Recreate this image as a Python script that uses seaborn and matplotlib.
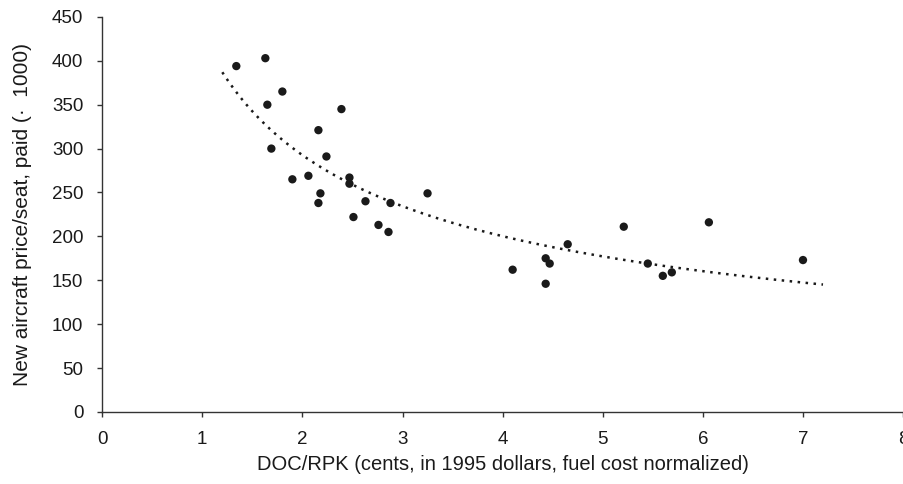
import numpy as np
import pandas as pd
import matplotlib
matplotlib.use("Agg")
import matplotlib.pyplot as plt
import seaborn as sns

# DOC/RPK (cents) and new aircraft price per seat (x1000)
doc_rpk = [1.34, 1.63, 1.80, 1.65, 2.39, 2.16, 1.69, 2.24, 1.90, 2.06,
           2.47, 2.47, 2.18, 2.16, 2.63, 2.88, 3.25, 2.51, 2.76, 2.86,
           5.21, 6.06, 7.00, 4.65, 4.43, 4.47, 4.10, 4.43, 5.45, 5.60, 5.69]
price_seat = [394, 403, 365, 350, 345, 321, 300, 291, 265, 269,
              267, 260, 249, 238, 240, 238, 249, 222, 213, 205,
              211, 216, 173, 191, 175, 169, 162, 146, 169, 155, 159]

x_ticks = [0, 1, 2, 3, 4, 5, 6, 7, 8]
y_ticks = [0, 50, 100, 150, 200, 250, 300, 350, 400, 450]
trend_range = (1.2, 7.2)

df = pd.DataFrame({"doc_rpk": doc_rpk, "price": price_seat})

sns.set_theme(style="ticks")
plt.rcParams["font.family"] = ["Liberation Sans", "DejaVu Sans"]

fig = plt.figure(figsize=(9.04, 4.84), dpi=100)
ax = fig.add_axes([0.113, 0.149, 0.886, 0.816])

sns.scatterplot(data=df, x="doc_rpk", y="price", ax=ax, color="#1a1a1a",
                s=36, edgecolor="none", zorder=3)

# power-law trendline fitted to the points
b, log_a = np.polyfit(np.log(df["doc_rpk"]), np.log(df["price"]), 1)
xs = np.linspace(trend_range[0], trend_range[1], 200)
sns.lineplot(x=xs, y=np.exp(log_a) * xs ** b, ax=ax, color="#1a1a1a",
             linestyle=(0, (1, 2.2)), linewidth=1.8)

ax.set_xlim(0, 8)
ax.set_ylim(0, 450)
ax.set_xticks(x_ticks)
ax.set_yticks(y_ticks)
ax.tick_params(labelsize=13.5, length=3.6, width=1, pad=10,
               color="#333333", labelcolor="#1a1a1a")
for side in ["left", "bottom"]:
    ax.spines[side].set_color("#333333")
    ax.spines[side].set_linewidth(1)
sns.despine(ax=ax)

ax.set_xlabel("DOC/RPK (cents, in 1995 dollars, fuel cost normalized)", fontsize=14.5,
              color="#1a1a1a", labelpad=5)
ax.set_ylabel("New aircraft price/seat, paid (·  1000)", fontsize=15,
              color="#1a1a1a", labelpad=14)

fig.savefig("out.png", dpi=100)
